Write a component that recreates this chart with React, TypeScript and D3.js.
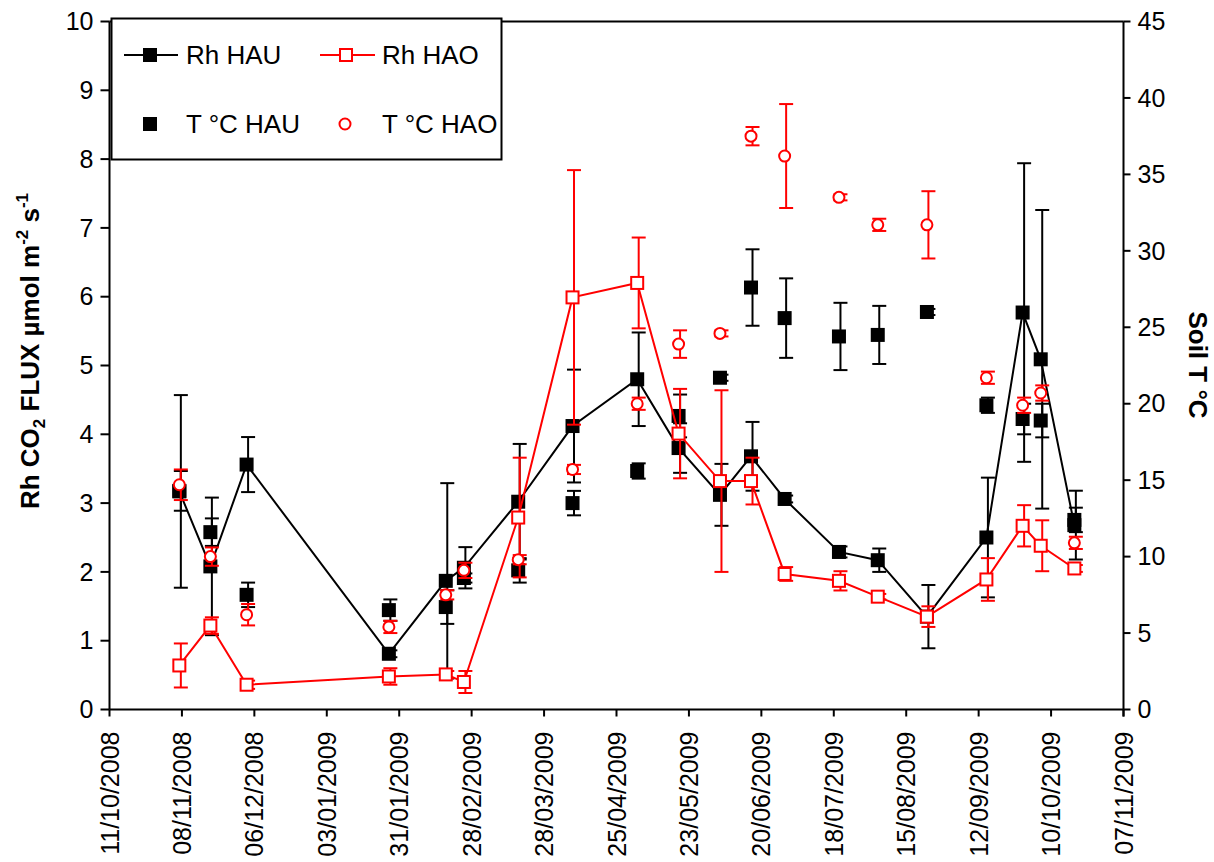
import React from "react";
import * as d3 from "d3";

// sampling dates
const dates = [
  "2008-11-07", "2008-11-19", "2008-12-03", "2009-01-27", "2009-02-18",
  "2009-02-25", "2009-03-18", "2009-04-08", "2009-05-03", "2009-05-19",
  "2009-06-04", "2009-06-16", "2009-06-29", "2009-07-20", "2009-08-04",
  "2009-08-23", "2009-09-15", "2009-09-29", "2009-10-06", "2009-10-19",
];

// Rh flux (µmol m-2 s-1) with errors
const rhHAU = [3.17, 2.08, 3.56, 0.81, 1.87, 2.06, 3.02, 4.12, 4.8, 3.8, 3.12, 3.68, 3.06, 2.29, 2.17, 1.35, 2.5, 5.77, 5.09, 2.68];
const rhHAUerr = [1.4, 1.0, 0.4, 0.05, 1.42, 0.3, 0.84, 0.82, 0.68, 0.36, 0.45, 0.5, 0.05, 0.08, 0.17, 0.46, 0.87, 2.17, 2.17, 0.5];
const rhHAO = [0.64, 1.22, 0.36, 0.48, 0.51, 0.4, 2.79, 5.99, 6.2, 4.01, 3.32, 3.32, 1.97, 1.87, 1.64, 1.35, 1.89, 2.67, 2.38, 2.05];
const rhHAOerr = [0.32, 0.12, 0.06, 0.12, 0.05, 0.16, 0.87, 1.85, 0.66, 0.65, 1.32, 0.34, 0.1, 0.14, 0.04, 0.15, 0.31, 0.3, 0.37, 0.05];

// soil temperature (°C) with errors
const tHAU = [14.3, 11.6, 7.5, 6.5, 6.7, 8.6, 9.1, 13.5, 15.6, 19.2, 21.7, 27.6, 25.6, 24.4, 24.5, 26.0, 19.9, 19.0, 18.9, 12.4];
const tHAUerr = [1.3, 0.9, 0.8, 0.7, 1.1, 0.3, 0.8, 0.8, 0.5, 1.4, 0.2, 2.5, 2.6, 2.2, 1.9, 0.2, 0.5, 1.0, 1.1, 0.8];
const tHAO = [14.7, 10.0, 6.2, 5.4, 7.5, 9.1, 9.8, 15.7, 20.0, 23.9, 24.6, 37.5, 36.2, 33.5, 31.7, 31.7, 21.7, 19.9, 20.7, 10.9];
const tHAOerr = [1.0, 0.6, 0.7, 0.4, 0.3, 0.5, 0.3, 0.3, 0.4, 0.9, 0.2, 0.6, 3.4, 0.2, 0.4, 2.2, 0.4, 0.5, 0.5, 0.4];

const leftTicks = [0, 1, 2, 3, 4, 5, 6, 7, 8, 9, 10];
const rightTicks = [0, 5, 10, 15, 20, 25, 30, 35, 40, 45];

const W = 1214, H = 862;
const m = { left: 109.5, right: 1123.5, top: 21.5, bottom: 709.5 };
const FONT = "'Liberation Sans', Arial, sans-serif";

export default function App() {
  const parse = d3.timeParse("%Y-%m-%d");
  const fmt = d3.timeFormat("%d/%m/%Y");
  const start = parse("2008-10-11")!;
  const end = parse("2009-11-07")!;
  const x = d3.scaleTime().domain([start, end]).range([m.left, m.right]);
  const yL = d3.scaleLinear().domain([0, 10]).range([m.bottom, m.top]);
  const yR = d3.scaleLinear().domain([0, 45]).range([m.bottom, m.top]);
  // ticks every 28 days
  const xt = d3.range(0, 15).map(i => d3.timeDay.offset(start, i * 28));

  const ds = dates.map(d => parse(d)!);
  const line = d3.line<number>().x((_, i) => x(ds[i])).y(v => yL(v));

  const errBars = (vals: number[], errs: number[], y: d3.ScaleLinear<number, number>, color: string, key: string) =>
    vals.map((v, i) => {
      const cx = x(ds[i]) + 1.5;
      const y1 = y(v + errs[i]), y2 = y(v - errs[i]);
      return (
        <g key={key + i} stroke={color} strokeWidth={2}>
          <line x1={cx} x2={cx} y1={y1} y2={y2} />
          <line x1={cx - 7} x2={cx + 7} y1={y1} y2={y1} />
          <line x1={cx - 7} x2={cx + 7} y1={y2} y2={y2} />
        </g>
      );
    });

  const squares = (vals: number[], y: d3.ScaleLinear<number, number>, fill: string, stroke: string, key: string) =>
    vals.map((v, i) => (
      <rect key={key + i} x={x(ds[i]) - 6} y={y(v) - 6} width={12} height={12} fill={fill} stroke={stroke} strokeWidth={2} />
    ));

  return (
    <svg width={W} height={H} style={{ position: "absolute", left: 0, top: 0, background: "#fff" }} fontFamily={FONT}>
      {/* frame */}
      <line x1={m.left} x2={m.right} y1={m.top} y2={m.top} stroke="#000" strokeWidth={2} />
      <line x1={m.left} x2={m.right} y1={m.bottom} y2={m.bottom} stroke="#000" strokeWidth={2} />
      <line x1={m.left} x2={m.left} y1={m.top} y2={m.bottom} stroke="#000" strokeWidth={2} />
      <line x1={m.right} x2={m.right} y1={m.top} y2={m.bottom + 7} stroke="#000" strokeWidth={2} />

      {/* left axis */}
      {leftTicks.map(t => (
        <g key={"l" + t}>
          <line x1={m.left - 9} x2={m.left} y1={yL(t)} y2={yL(t)} stroke="#000" strokeWidth={2} />
          <text x={m.left - 16} y={yL(t)} dy="0.35em" textAnchor="end" fontSize={25}>{t}</text>
        </g>
      ))}
      {/* right axis */}
      {rightTicks.map(t => (
        <g key={"r" + t}>
          <line x1={m.right} x2={m.right + 7} y1={yR(t)} y2={yR(t)} stroke="#000" strokeWidth={2} />
          <text x={m.right + 14} y={yR(t)} dy="0.35em" textAnchor="start" fontSize={25}>{t}</text>
        </g>
      ))}
      {/* x axis */}
      {xt.map((d, i) => (
        <g key={"x" + i} transform={`translate(${x(d)},${m.bottom})`}>
          <line y1={0} y2={7} stroke="#000" strokeWidth={2} />
          <text transform="rotate(-90)" x={-22} y={0} dy="0.36em" textAnchor="end" fontSize={25}>{fmt(d)}</text>
        </g>
      ))}

      {/* axis titles */}
      <text transform="translate(39,351) rotate(-90)" textAnchor="middle" fontSize={26} fontWeight="bold">
        Rh CO<tspan fontSize={17} dy={6}>2</tspan>
        <tspan dy={-6}> FLUX µmol m</tspan>
        <tspan fontSize={17} dy={-11}>-2</tspan>
        <tspan dy={11}> s</tspan>
        <tspan fontSize={17} dy={-11}>-1</tspan>
      </text>
      <text transform="translate(1189,365) rotate(90)" textAnchor="middle" fontSize={26} fontWeight="bold">Soil T °C</text>

      {/* black series */}
      {errBars(tHAU, tHAUerr, yR, "#000", "ethau")}
      {errBars(rhHAU, rhHAUerr, yL, "#000", "erhau")}
      <path d={line(rhHAU)!} fill="none" stroke="#000" strokeWidth={2} />
      {squares(tHAU, yR, "#000", "#000", "sthau")}
      {squares(rhHAU, yL, "#000", "#000", "srhau")}

      {/* red series */}
      {errBars(tHAO, tHAOerr, yR, "#ff0000", "ethao")}
      {errBars(rhHAO, rhHAOerr, yL, "#ff0000", "erhao")}
      <path d={line(rhHAO)!} fill="none" stroke="#ff0000" strokeWidth={2} />
      {tHAO.map((v, i) => (
        <circle key={"cthao" + i} cx={x(ds[i])} cy={yR(v)} r={5.5} fill="#fff" stroke="#ff0000" strokeWidth={2} />
      ))}
      {squares(rhHAO, yL, "#fff", "#ff0000", "srhao")}

      {/* legend */}
      <g>
        <rect x={111.5} y={18.5} width={390} height={141} fill="#fff" stroke="#000" strokeWidth={2} />
        <line x1={124} x2={178} y1={55} y2={55} stroke="#000" strokeWidth={2} />
        <rect x={144} y={49} width={12} height={12} fill="#000" stroke="#000" strokeWidth={2} />
        <text x={186} y={55} dy="0.36em" fontSize={26}>Rh HAU</text>
        <line x1={320} x2={375} y1={55} y2={55} stroke="#ff0000" strokeWidth={2} />
        <rect x={340} y={49} width={12} height={12} fill="#fff" stroke="#ff0000" strokeWidth={2} />
        <text x={382} y={55} dy="0.36em" fontSize={26}>Rh HAO</text>
        <rect x={144} y={118} width={12} height={12} fill="#000" stroke="#000" strokeWidth={2} />
        <text x={186} y={124} dy="0.36em" fontSize={26}>T °C HAU</text>
        <circle cx={345} cy={124} r={5.5} fill="#fff" stroke="#ff0000" strokeWidth={2} />
        <text x={382} y={124} dy="0.36em" fontSize={26}>T °C HAO</text>
      </g>
    </svg>
  );
}
